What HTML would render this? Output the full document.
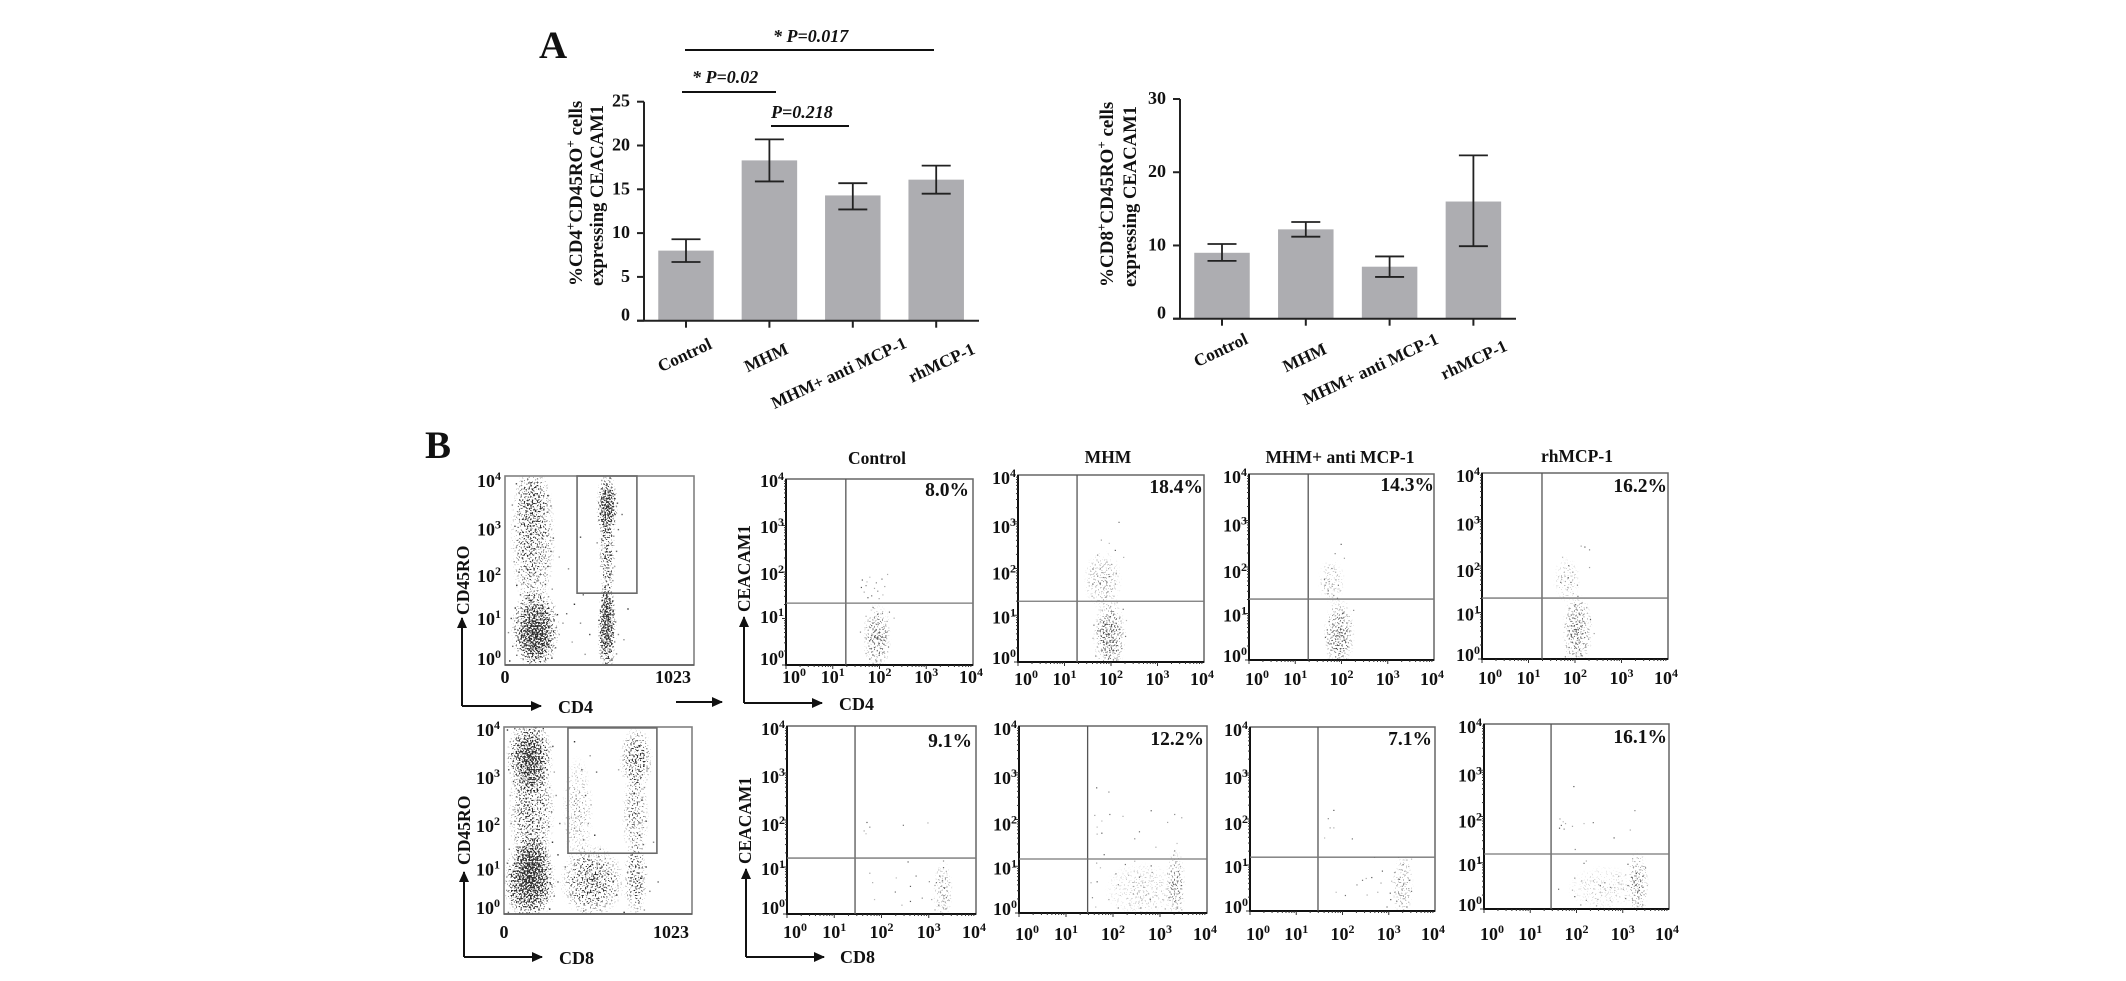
<!DOCTYPE html>
<html lang="en">
<head>
<meta charset="utf-8">
<title>CEACAM1 expression figure</title>
<style>
html,body{margin:0;padding:0;background:#fff;width:2126px;height:981px;overflow:hidden}
svg{display:block}
text{font-family:"Liberation Serif",serif;font-weight:bold;fill:#111}
.it{font-style:italic}
</style>
</head>
<body>
<svg id="figure" xmlns="http://www.w3.org/2000/svg" width="2126" height="981" viewBox="0 0 2126 981">
<defs>
<radialGradient id="soft"><stop offset="0" stop-color="#000" stop-opacity="1"/><stop offset=".55" stop-color="#000" stop-opacity=".62"/><stop offset="1" stop-color="#000" stop-opacity="0"/></radialGradient>
<marker id="ah" markerUnits="userSpaceOnUse" markerWidth="12" markerHeight="10" refX="10" refY="5" orient="auto"><path d="M0 0L11 5L0 10Z" fill="#111"/></marker>
<filter id="stipple" x="-5%" y="-5%" width="110%" height="110%" color-interpolation-filters="sRGB">
<feTurbulence type="fractalNoise" baseFrequency="0.62" numOctaves="1" seed="7" result="n"/>
<feColorMatrix in="n" type="matrix" values="0 0 0 0 0 0 0 0 0 0 0 0 0 0 0 3.4 0 0 0 -1.2" result="na"/>
<feComposite in="SourceAlpha" in2="na" operator="arithmetic" k1="0" k2="1" k3="1" k4="-1" result="d"/>
<feColorMatrix in="d" type="matrix" values="0 0 0 0 0.12 0 0 0 0 0.12 0 0 0 0 0.12 0 0 0 3.5 0"/>
</filter>
</defs>
<rect width="2126" height="981" fill="#fff"/>

<text x="539" y="58" font-size="39">A</text>
<text x="425" y="458" font-size="39">B</text>

<g>
<line x1="685" y1="50" x2="934" y2="50" stroke="#111" stroke-width="2"/>
<text class="it" x="773" y="42" font-size="18">* P=0.017</text>
<line x1="682" y1="92" x2="776" y2="92" stroke="#111" stroke-width="2"/>
<text class="it" x="692" y="83" font-size="18">* P=0.02</text>
<line x1="771" y1="126" x2="849" y2="126" stroke="#111" stroke-width="2"/>
<text class="it" x="771" y="118" font-size="18">P=0.218</text>
</g>

<g>
<text transform="translate(582,286) rotate(-90)" font-size="19">%CD4<tspan font-size="13" dy="-7">+</tspan><tspan dy="7">CD45RO</tspan><tspan font-size="13" dy="-7">+</tspan><tspan dy="7"> cells</tspan></text>
<text transform="translate(603,286) rotate(-90)" font-size="18.6">expressing CEACAM1</text>
</g>
<g>
<text transform="translate(1113,287) rotate(-90)" font-size="19">%CD8<tspan font-size="13" dy="-7">+</tspan><tspan dy="7">CD45RO</tspan><tspan font-size="13" dy="-7">+</tspan><tspan dy="7"> cells</tspan></text>
<text transform="translate(1136,287) rotate(-90)" font-size="18.6">expressing CEACAM1</text>
</g>
<g id="barCharts"></g>
<g id="flowPlots"></g>

<g stroke="#111" stroke-width="2" fill="none">
<path d="M462 706V618" marker-end="url(#ah)"/>
<path d="M462 706H541" marker-end="url(#ah)"/>
<path d="M676 702H722" marker-end="url(#ah)"/>
<path d="M744 703V617" marker-end="url(#ah)"/>
<path d="M744 703H822" marker-end="url(#ah)"/>
<path d="M464 957V872" marker-end="url(#ah)"/>
<path d="M464 957H542" marker-end="url(#ah)"/>
<path d="M746 957V869" marker-end="url(#ah)"/>
<path d="M746 957H824" marker-end="url(#ah)"/>
</g>
<g>
<text x="558" y="713" font-size="18">CD4</text>
<text x="839" y="710" font-size="18">CD4</text>
<text x="559" y="964" font-size="18">CD8</text>
<text x="840" y="963" font-size="18">CD8</text>
<text transform="translate(469,615) rotate(-90)" font-size="17.6">CD45RO</text>
<text transform="translate(470,865) rotate(-90)" font-size="17.6">CD45RO</text>
<text transform="translate(750,612) rotate(-90)" font-size="17.4">CEACAM1</text>
<text transform="translate(751,864) rotate(-90)" font-size="17.4">CEACAM1</text>
</g>
<g text-anchor="middle">
<text x="877" y="464" font-size="17.5">Control</text>
<text x="1108" y="463" font-size="17.5">MHM</text>
<text x="1340" y="463" font-size="17.5">MHM+ anti MCP-1</text>
<text x="1577" y="462" font-size="17.5">rhMCP-1</text>
</g>
</svg>

<script>
/* ---------- bar chart data ---------- */
const barCategories = ['Control', 'MHM', 'MHM+ anti MCP-1', 'rhMCP-1'];
const cd4Means = [8.0, 18.3, 14.3, 16.1];
const cd4Upper = [9.3, 20.7, 15.7, 17.7];
const cd4Lower = [6.7, 15.9, 12.7, 14.5];
const cd4Ticks = [0, 5, 10, 15, 20, 25];
const cd8Means = [9.0, 12.2, 7.1, 16.0];
const cd8Upper = [10.2, 13.2, 8.5, 22.3];
const cd8Lower = [7.9, 11.2, 5.7, 9.9];
const cd8Ticks = [0, 10, 20, 30];

/* ---------- flow cytometry data ---------- */
const decadeLabels = ['0', '1', '2', '3', '4'];
const gateXLabels = ['0', '1023'];
const gateCd4Density = [[165,.78,135,.85,.8],[165,.45,110,.55,.4],[150,2.7,125,1.6,.42],[150,3.5,105,.6,.24],[552,3.35,60,.72,.8],[552,2.3,46,1,.45],[552,.75,54,.95,.8],[552,1.3,42,.48,.4]];
const gateCd8Density = [[140,3.35,130,.85,.78],[150,2.2,130,1.3,.42],[140,.7,150,.88,.85],[150,1.2,110,.6,.42],[480,.7,180,.8,.45],[720,3.3,92,.72,.42],[715,2.1,76,1.05,.28],[715,.75,68,.85,.4],[400,2.2,88,1.2,.18]];
const gateCd4Box = [390, 714, 1.52, 4];
const gateCd8Box = [348, 832, 1.3, 3.98];
const gateCd4Points = [[22,.1],[60,.22],[95,.13],[130,.05],[178,.18],[210,.09],[250,.16],[38,.41],[72,.55],[110,.37],[146,.48],[188,.35],[225,.44],[270,.38],[15,.7],[48,.82],[88,.66],[125,.75],[168,.62],[202,.8],[242,.7],[290,.66],[30,1],[66,.93],[104,1.08],[140,.95],[180,1.1],[218,1],[262,.95],[310,.9],[52,1.22],[92,1.31],[128,1.18],[165,1.27],[204,1.24],[246,1.15],[280,1.08],[80,1.5],[120,1.45],[155,1.58],[190,1.42],[232,1.46],[60,1.7],[98,1.76],[138,1.68],[175,1.82],[215,1.72],[252,1.62],[72,1.98],[112,2.05],[150,1.93],[190,2.02],[228,2.1],[46,2.2],[90,2.28],[130,2.35],[170,2.22],[208,2.3],[245,2.42],[58,2.5],[102,2.58],[142,2.48],[182,2.62],[222,2.55],[258,2.7],[80,2.78],[122,2.72],[160,2.85],[198,2.78],[236,2.9],[50,2.95],[96,3.02],[134,2.96],[174,3.1],[212,3.05],[66,3.2],[110,3.28],[150,3.18],[188,3.32],[228,3.25],[36,3.4],[84,3.47],[128,3.42],[168,3.5],[205,3.44],[245,3.38],[72,3.66],[112,3.7],[152,3.62],[190,3.74],[228,3.6],[88,3.9],[125,3.86],[172,3.95],[58,3.85],[550,.05],[575,.12],[520,.2],[600,.25],[535,.35],[565,.42],[590,.5],[515,.58],[548,.63],[610,.66],[530,.78],[570,.85],[595,.92],[505,.96],[555,1.02],[585,1.1],[525,1.14],[560,1.24],[535,1.32],[580,1.37],[545,1.44],[570,1.55],[525,1.62],[555,1.72],[580,1.8],[540,1.88],[565,1.95],[530,2.05],[590,2.1],[550,2.2],[515,2.3],[572,2.34],[600,2.42],[538,2.5],[560,2.6],[520,2.68],[585,2.74],[548,2.82],[610,2.88],[530,2.94],[570,3.02],[505,3.08],[555,3.14],[592,3.2],[525,3.26],[575,3.32],[540,3.38],[605,3.44],[515,3.5],[560,3.56],[590,3.62],[530,3.7],[572,3.76],[548,3.84],[520,3.92],[565,3.97],[330,1.1],[405,.9],[360,.5],[455,.66],[430,.24],[372,1.3],[420,1.5],[340,2.05],[290,2.3],[405,2.72],[640,.55],[662,1.2],[630,3.2],[495,2.6]];
const gateCd8Points = [[15,3.95],[55,3.98],[105,3.97],[160,3.96],[210,3.98],[30,3.7],[75,3.78],[120,3.62],[170,3.82],[225,3.72],[262,3.6],[40,3.4],[88,3.5],[140,3.38],[190,3.55],[240,3.3],[22,3.1],[66,3.2],[112,3.05],[160,3.22],[205,3.12],[270,3.05],[48,2.85],[98,2.9],[150,2.78],[195,2.95],[245,2.72],[30,2.55],[78,2.62],[128,2.5],[178,2.68],[225,2.45],[280,2.55],[55,2.25],[105,2.32],[155,2.18],[205,2.38],[255,2.2],[35,1.95],[85,2.05],[135,1.92],[185,2.02],[240,1.88],[300,1.95],[60,1.65],[110,1.72],[160,1.6],[210,1.75],[260,1.55],[25,1.4],[75,1.42],[125,1.32],[175,1.48],[225,1.35],[290,1.28],[15,1.1],[55,1.18],[100,1.02],[150,1.12],[200,1.05],[250,.98],[330,1.02],[35,.8],[85,.88],[130,.72],[180,.84],[230,.78],[290,.7],[18,.5],[65,.58],[110,.44],[160,.54],[210,.48],[270,.4],[40,.22],[90,.28],[140,.15],[190,.25],[245,.12],[20,.05],[120,.04],[380,1.05],[430,1.2],[470,.95],[515,1.08],[560,.88],[395,.72],[445,.6],[490,.78],[535,.62],[590,.7],[360,.42],[410,.3],[460,.46],[505,.34],[555,.24],[610,.42],[430,.08],[520,.1],[400,2.1],[440,2.55],[455,1.95],[490,1.7],[430,1.6],[380,1.85],[470,2.35],[420,3.1],[465,3.4],[380,3.7],[500,3.05],[520,1.4],[700,3.7],[735,3.6],[680,3.45],[755,3.35],[710,3.25],[775,3.12],[690,3],[725,2.88],[760,2.72],[705,2.6],[745,2.45],[670,2.28],[720,2.15],[770,2],[695,1.88],[735,1.7],[755,1.5],[700,1.32],[730,1.12],[770,1.02],[690,.92],[745,.78],[715,.6],[790,.5],[680,.42],[730,.25],[760,.1],[650,.05],[835,.7],[810,1.55],[620,3.1]];
const controlCd4Points = [[1.62,1.84],[1.7,1.72],[1.66,1.58],[1.78,1.9],[1.82,1.5],[1.88,1.66],[1.74,1.46],[1.92,1.78],[1.98,1.44],[2.06,1.52],[2.04,1.86],[2.16,1.96],[1.6,1.68],[1.95,1.6],[2.1,1.7],[1.72,1.8],[1.85,1.25],[1.7,1.06],[1.95,1.1],[2.05,1.12],[2.15,.95],[1.9,.96],[2.2,1.15],[2.3,1.02],[1.82,.86],[1.96,.88],[2.08,.84],[1.75,.76],[1.88,.74],[2,.78],[2.12,.72],[1.58,.72],[1.84,.66],[1.94,.68],[2.05,.62],[1.68,.6],[1.8,.56],[1.92,.58],[2.02,.54],[2.14,.58],[1.88,.48],[1.97,.5],[2.08,.46],[1.76,.42],[1.9,.4],[2,.38],[2.18,.4],[1.84,.3],[1.94,.32],[2.06,.28],[1.7,.26],[1.88,.2],[1.98,.22],[2.1,.18],[1.78,.14],[1.92,.1],[2.02,.12],[1.86,.04],[2,.03],[1.95,.92],[1.9,.64],[1.98,.44],[1.96,.7]];
const mhmCd4Points = [[1.6,2.0],[1.7,2.3],[1.78,2.62],[1.95,2.55],[2.16,3.0],[2.26,2.25],[2.08,2.4],[1.9,2.15],[2,2.1],[1.52,1.64],[1.6,1.68],[1.66,1.62],[1.75,1.7],[1.84,1.6],[1.92,1.52],[2.02,1.58],[1.7,1.85],[1.82,1.92],[1.96,1.84],[2.1,1.9],[1.58,1.42],[1.72,1.45],[1.88,1.4],[2.05,1.42],[1.9,1.72],[2.08,1.68],[1.98,1.2],[2.12,1.28],[2.25,1.14],[1.8,1.12],[1.9,1.02],[2.05,1.04],[2.18,.96],[2.32,.9],[1.62,.8],[1.76,.88],[1.86,.82],[1.95,.9],[2.08,.84],[2.2,.76],[1.7,.68],[1.82,.66],[1.9,.7],[1.98,.74],[2.06,.66],[2.14,.62],[2.3,.56],[1.6,.52],[1.78,.56],[1.86,.5],[1.94,.58],[2.02,.48],[2.12,.46],[1.72,.4],[1.84,.38],[1.92,.42],[2,.36],[2.1,.34],[2.22,.3],[1.78,.26],[1.88,.22],[1.96,.26],[2.06,.2],[2.16,.18],[1.66,.14],[1.86,.1],[1.95,.12],[2.04,.06],[2.12,.1],[1.98,.72],[1.94,.6],[1.9,.46]];
const antiCd4Points = [[1.98,2.5],[1.85,2.3],[2.05,2.2],[1.7,2.0],[1.78,1.98],[1.86,1.9],[1.62,1.75],[1.72,1.7],[1.64,1.62],[1.78,1.6],[1.92,1.62],[1.96,1.5],[1.7,1.5],[1.82,1.4],[1.7,1.44],[1.62,1.62],[1.9,1.34],[1.95,1.1],[2.02,1.02],[2.25,1.08],[2.1,.98],[1.85,.96],[1.98,.92],[2.15,.86],[1.72,.84],[1.82,.78],[1.92,.8],[2,.74],[2.1,.72],[2.2,.8],[1.68,.66],[1.8,.62],[1.9,.66],[1.97,.6],[2.06,.58],[2.16,.62],[1.64,.5],[1.78,.5],[1.88,.54],[1.96,.46],[2.06,.44],[2.2,.42],[1.7,.38],[1.82,.36],[1.92,.4],[2,.34],[2.12,.3],[1.78,.22],[1.88,.26],[1.96,.2],[2.06,.16],[1.74,.1],[1.86,.08],[1.95,.06],[2.02,.1],[1.94,.52],[1.92,.62]];
const rhCd4Points = [[2.2,2.42],[2.3,2.36],[2.12,2.44],[1.72,2.2],[1.85,2.02],[1.76,1.88],[1.84,1.76],[1.94,1.88],[2.3,1.98],[1.7,1.72],[1.68,1.66],[1.78,1.68],[1.9,1.66],[2.04,1.6],[1.82,1.5],[1.95,1.42],[2.05,1.36],[1.86,1.1],[2,1.18],[2.14,1.22],[2.24,1.12],[1.94,1],[2.08,.98],[2.18,.92],[2.32,.86],[1.88,.86],[2,.88],[2.1,.84],[2.2,.78],[1.78,.76],[1.92,.72],[2.04,.76],[2.14,.7],[2.26,.66],[1.84,.62],[1.96,.6],[2.06,.64],[2.16,.56],[2.4,.56],[1.82,.5],[1.94,.48],[2.04,.52],[2.12,.46],[2.28,.44],[1.9,.38],[2,.36],[2.1,.38],[2.22,.32],[1.86,.26],[1.98,.24],[2.08,.2],[2.2,.26],[1.94,.12],[2.02,.14],[2.14,.08],[1.78,.06],[2.02,.58],[2.06,.42]];
const rhCd8Points = [[1.93,2.66],[3.25,2.14],[1.63,1.96],[1.7,1.9],[1.66,1.82],[1.75,1.86],[1.62,1.76],[1.72,1.74],[1.9,1.8],[2.15,1.86],[2.35,1.88],[3.15,1.72],[2.8,1.55],[1.96,1.3],[3.2,1.1],[3.3,1.12],[2.15,1],[2.2,1.05],[3.1,.98],[3.22,.92],[3.3,.98],[3.4,.94],[3.48,.9],[3.2,.82],[3.28,.78],[3.36,.86],[2.9,.72],[3.05,.75],[3.18,.7],[3.3,.66],[3.42,.72],[1.95,.68],[2.1,.62],[2.35,.62],[2.6,.58],[2.9,.58],[3.1,.52],[3.28,.54],[3.4,.5],[3.52,.52],[1.6,.44],[1.9,.42],[2.5,.52],[2.72,.48],[3,.44],[3.2,.36],[3.32,.4],[3.45,.32],[1.95,.28],[2.2,.2],[2.45,.22],[2.72,.2],[3.05,.24],[3.2,.2],[3.32,.14],[2.08,.1],[2.42,.08],[3.3,.06],[3.42,.1]];
const controlCd8Points = [[1.68,1.96],[1.74,1.86],[1.62,1.78],[1.66,1.72],[2.45,1.9],[2.97,1.95],[2.55,1.12],[3.3,1.14],[1.74,.88],[2.3,.78],[2.72,.82],[1.8,.68],[2.6,.6],[3.0,.7],[3.12,.62],[1.84,.32],[2.28,.48],[2.42,.2],[2.6,.28],[2.85,.35],[3.05,.32],[3.2,.95],[3.3,1],[3.36,.92],[3.22,.82],[3.28,.72],[3.34,.78],[3.42,.68],[3.15,.68],[3.26,.6],[3.32,.56],[3.38,.5],[3.2,.48],[3.28,.42],[3.36,.36],[3.3,.28],[3.2,.2],[3.3,.14],[3.12,.1],[3.24,.06],[3.35,.12],[3.42,.3]];
const mhmCd8Points = [[1.64,2.69],[1.9,2.6],[1.6,2.1],[1.75,1.98],[1.92,2.12],[2.2,2.08],[2.8,2.2],[3.3,2.12],[3.45,2.05],[1.65,1.85],[2.55,1.75],[1.65,1.7],[1.75,1.72],[2.45,1.6],[3.15,1.95],[3.35,1.5],[3.3,1.34],[2.9,1.42],[1.8,1.26],[3.28,1.25],[1.64,1.08],[1.72,.98],[2.25,1.05],[2.45,1.12],[2.8,1.02],[3.22,1.02],[3.32,1.08],[3.42,1],[2.05,.85],[2.32,.82],[2.55,.78],[2.82,.88],[3.15,.85],[3.3,.82],[3.38,.9],[1.52,.66],[1.65,.68],[2.1,.62],[2.42,.58],[2.62,.66],[3.28,.62],[3.36,.68],[3.44,.6],[2.42,.42],[2.7,.4],[2.92,.38],[3.2,.46],[3.3,.44],[3.38,.48],[1.55,.34],[1.9,.3],[2.6,.28],[2.78,.3],[3.05,.3],[3.18,.34],[3.32,.28],[3.42,.32],[1.62,.14],[2.1,.12],[2.35,.18],[2.58,.12],[2.9,.14],[3.1,.1],[3.25,.16],[3.36,.12],[3.45,.08]];
const antiCd8Points = [[1.8,2.2],[1.68,2.02],[1.72,1.82],[1.6,1.6],[2.2,1.58],[1.8,1.82],[2.68,1.18],[3.2,1.18],[3.38,1.12],[3.48,1.14],[3.3,1.02],[3.42,.98],[2.85,.88],[3.12,.85],[3.28,.9],[3.4,.85],[2.42,.68],[2.5,.72],[2.62,.74],[2.3,.58],[2.82,.62],[3.05,.66],[3.22,.7],[3.32,.62],[3.44,.68],[3.28,.55],[3.42,.5],[1.85,.42],[2.05,.35],[2.75,.42],[3.02,.4],[3.12,.42],[3.22,.38],[3.36,.4],[3.48,.44],[2.52,.36],[3.03,.26],[3.16,.22],[3.3,.28],[3.42,.2],[2.95,.1],[3.22,.12],[3.38,.1]];
const controlCd4Density = [[1.95,.6,.32,.75,.36]];
const mhmCd4Density = [[1.97,.55,.36,.82,.46],[1.82,1.75,.42,.65,.22]];
const antiCd4Density = [[1.95,.55,.34,.8,.4],[1.78,1.7,.3,.5,.16]];
const rhCd4Density = [[2.05,.6,.34,.82,.38],[1.82,1.7,.3,.5,.16]];
const controlCd8Density = [[3.3,.5,.22,.65,.2]];
const mhmCd8Density = [[3.33,.6,.22,.8,.3],[2.6,.5,.8,.6,.14]];
const antiCd8Density = [[3.3,.55,.24,.7,.24]];
const rhCd8Density = [[3.33,.55,.24,.75,.3],[2.6,.45,.8,.5,.12]];
const controlCd4Gate = [1.28, 1.33];
const mhmCd4Gate = [1.27, 1.30];
const antiCd4Gate = [1.28, 1.31];
const rhCd4Gate = [1.29, 1.31];
const controlCd8Gate = [1.44, 1.19];
const mhmCd8Gate = [1.46, 1.155];
const antiCd8Gate = [1.47, 1.17];
const rhCd8Gate = [1.45, 1.19];
const percentLabels = ['8.0%', '18.4%', '14.3%', '16.2%', '9.1%', '12.2%', '7.1%', '16.1%'];

/* ---------- helpers ---------- */
const SVGNS = 'http://www.w3.org/2000/svg';
function node(tag, parent, attrs, text) {
  const el = document.createElementNS(SVGNS, tag);
  for (const k in attrs) el.setAttribute(k, attrs[k]);
  if (text !== undefined) el.textContent = text;
  parent.appendChild(el);
  return el;
}

/* ---------- bar charts ---------- */
function drawBarChart(parent, means, upper, lower, ticks, g) {
  const yScale = v => g.y0 + (g.yTop - g.y0) * v / ticks[ticks.length - 1];
  const xScale = i => g.x0 + g.step * i;
  const axisY = node('line', parent, {x1: g.axisX, x2: g.axisX, y1: g.yTop, y2: g.y0, stroke: '#222', 'stroke-width': 2});
  
  
  ticks.forEach(t => {
    const tick = node('line', parent, {x1: g.axisX - 7, x2: g.axisX, y1: yScale(t), y2: yScale(t), stroke: '#222', 'stroke-width': 2});
    
    
    const lab = node('text', parent, {x: g.axisX - 14, y: yScale(t) + (t === 0 ? 0 : 5), 'text-anchor': 'end', 'font-size': 18}, String(t));
    
    
  });
  means.forEach((m, i) => {
    const cx = xScale(i);
    const bar = node('rect', parent, {x: cx - g.barW / 2, y: yScale(m), width: g.barW, height: g.y0 - yScale(m), fill: '#adadb1'});
    
    
    const stem = node('line', parent, {x1: cx, x2: cx, y1: yScale(upper[i]), y2: yScale(lower[i]), stroke: '#222', 'stroke-width': 1.8});
    
    
    const capTop = node('line', parent, {x1: cx - 14.5, x2: cx + 14.5, y1: yScale(upper[i]), y2: yScale(upper[i]), stroke: '#222', 'stroke-width': 1.8});
    
    
    const capBot = node('line', parent, {x1: cx - 14.5, x2: cx + 14.5, y1: yScale(lower[i]), y2: yScale(lower[i]), stroke: '#222', 'stroke-width': 1.8});
    
    
    const tick = node('line', parent, {x1: cx, x2: cx, y1: g.y0, y2: g.y0 + 7, stroke: '#222', 'stroke-width': 2});
    
    
    const ex = cx + g.labelDx[i], ey = g.labelY[i];
    const lab = node('text', parent, {transform: 'translate(' + ex + ',' + ey + ') rotate(-25)', 'text-anchor': 'end', 'font-size': 17.3}, barCategories[i]);
    
    
  });
  const axisX = node('line', parent, {x1: g.axisX - 7, x2: g.axisEnd, y1: g.y0, y2: g.y0, stroke: '#222', 'stroke-width': 2});
  
  
}
const barRoot = document.getElementById('barCharts');
const cd4Chart = node('g', barRoot, {});


drawBarChart(cd4Chart, cd4Means, cd4Upper, cd4Lower, cd4Ticks, {axisX: 644, axisEnd: 979, y0: 320.7, yTop: 101.7, x0: 686, step: 83.4, barW: 55.5, labelDx: [27, 20, 55, 40], labelY: [348, 353, 347, 353]});
const cd8Chart = node('g', barRoot, {});


drawBarChart(cd8Chart, cd8Means, cd8Upper, cd8Lower, cd8Ticks, {axisX: 1180, axisEnd: 1516, y0: 318.7, yTop: 99, x0: 1222, step: 83.8, barW: 55.5, labelDx: [27, 22, 50, 35], labelY: [343, 353, 343, 350]});

/* ---------- flow plots ---------- */
const shades = ['#1c1c1c', '#5a5a5a', '#7d7d7d', '#a0a0a0', '#3c3c3c', '#8c8c8c'];
let clipCount = 0;
function powerLabel(parent, exp, x, y, anchor) {
  const t = node('text', parent, {x: x, y: y, 'text-anchor': anchor, 'font-size': 18});
  
  
  node('tspan', t, {}, '10');
  node('tspan', t, {'font-size': 12, dy: -7}, exp);
  return t;
}
function drawDots(parent, points, density, sx, sy, dx, dy, size, b, cloudOpacity) {
  clipCount += 1;
  const clipId = 'plotClip' + clipCount;
  const cp = node('clipPath', parent, {id: clipId});
  node('rect', cp, {x: b.l, y: b.t, width: b.r - b.l, height: b.b - b.t});
  const outer = node('g', parent, {'clip-path': 'url(#' + clipId + ')'});
  
  
  const cloud = node('g', outer, {filter: 'url(#stipple)', opacity: cloudOpacity});
  
  
  density.forEach(d => {
    const blob = node('ellipse', cloud, {cx: sx(d[0]), cy: sy(d[1]), rx: d[2] * dx, ry: d[3] * dy, fill: 'url(#soft)', opacity: d[4]});
    
    
  });
  points.forEach((p, i) => {
    const dot = node('rect', outer, {x: sx(p[0]), y: sy(p[1]), width: size, height: size, fill: shades[i % shades.length], opacity: cloudOpacity});
    
    
  });
}
function drawGatePlot(parent, points, density, gate, b) {
  const w = b.r - b.l, h = b.b - b.t;
  const sx = v => b.l + v / 1023 * w;
  const sy = v => b.b - v / 4 * h;
  const events = node('g', parent, {});
  
  
  drawDots(events, points, density, sx, sy, w / 1023, h / 4, 1.4, b, 0.92);
  const frame = node('rect', parent, {x: b.l, y: b.t, width: w, height: h, fill: 'none', stroke: '#808080', 'stroke-width': 1.6});
  
  
  const base = node('line', parent, {x1: b.l, x2: b.r, y1: b.b, y2: b.b, stroke: '#555', 'stroke-width': 1.6});
  
  
  const gr = node('rect', parent, {x: sx(gate[0]), y: sy(gate[3]), width: sx(gate[1]) - sx(gate[0]), height: sy(gate[2]) - sy(gate[3]), fill: 'none', stroke: '#6a6a6a', 'stroke-width': 1.6});
  
  
  decadeLabels.forEach((lab, i) => {
    powerLabel(parent, lab, b.l - 4, b.b - i * h / 4 + b.yOff[i], 'end');
  });
  const x0 = node('text', parent, {x: sx(0), y: b.labelY, 'text-anchor': 'middle', 'font-size': 18}, gateXLabels[0]);
  
  
  const x1 = node('text', parent, {x: sx(1023) - 3, y: b.labelY, 'text-anchor': 'end', 'font-size': 18}, gateXLabels[1]);
  
  
}
function drawQuadPlot(parent, points, density, gate, pct, b) {
  const w = b.r - b.l, h = b.b - b.t;
  const sx = v => b.l + v / 4 * w;
  const sy = v => b.b - v / 4 * h;
  drawDots(parent, points, density, sx, sy, w / 4, h / 4, 1.2, b, 0.72);
  const frame = node('rect', parent, {x: b.l, y: b.t, width: w, height: h, fill: 'none', stroke: '#666', 'stroke-width': 1.5});
  
  
  const ax = node('path', parent, {d: 'M' + b.l + ' ' + b.t + 'V' + b.b + 'H' + b.r, fill: 'none', stroke: '#111', 'stroke-width': 2});
  
  
  const vg = node('line', parent, {x1: sx(gate[0]), x2: sx(gate[0]), y1: b.t, y2: b.b, stroke: '#555', 'stroke-width': 1.3});
  
  
  const hg = node('line', parent, {x1: b.l, x2: b.r, y1: sy(gate[1]), y2: sy(gate[1]), stroke: '#777', 'stroke-width': 1.3});
  
  
  for (let d = 0; d < 4; d++) {
    [1, 2, 3, 4, 5, 6, 7, 8, 9].forEach(m => {
      const v = d + Math.log10(m);
      const len = m === 1 ? 4 : 2;
      const tx = node('line', parent, {x1: sx(v), x2: sx(v), y1: b.b, y2: b.b + len, stroke: '#333', 'stroke-width': 1});
      
      
      const ty = node('line', parent, {x1: b.l - len, x2: b.l, y1: sy(v), y2: sy(v), stroke: '#333', 'stroke-width': 1});
      
      
    });
  }
  decadeLabels.forEach((lab, i) => {
    powerLabel(parent, lab, b.l - 2, sy(i) + b.yOff[i], 'end');
    powerLabel(parent, lab, sx(i) + [8, 0, 0, 0, -2][i], b.labelY, 'middle');
  });
  const p = node('text', parent, {x: b.pctX, y: b.pctY, 'text-anchor': 'end', 'font-size': 19.5}, pct);
  
  
}
const flowRoot = document.getElementById('flowPlots');
const stdOff = [2, 8, 11, 11, 9];
const gateTop = node('g', flowRoot, {});


drawGatePlot(gateTop, gateCd4Points, gateCd4Density, gateCd4Box, {l: 505, r: 694, t: 476, b: 665, labelY: 683, yOff: [0, 7, 11.5, 12, 11]});
const gateBottom = node('g', flowRoot, {});


drawGatePlot(gateBottom, gateCd8Points, gateCd8Density, gateCd8Box, {l: 504, r: 692, t: 727, b: 914, labelY: 938, yOff: [0, 8, 11.5, 10, 9]});

const q1 = node('g', flowRoot, {});


drawQuadPlot(q1, controlCd4Points, controlCd4Density, controlCd4Gate, percentLabels[0], {l: 786, r: 973, t: 479, b: 665, labelY: 683, pctX: 969, pctY: 496, yOff: [0, 4.5, 8, 7.5, 8]});
const q2 = node('g', flowRoot, {});


drawQuadPlot(q2, mhmCd4Points, mhmCd4Density, mhmCd4Gate, percentLabels[1], {l: 1018, r: 1204, t: 475, b: 662, labelY: 685, pctX: 1203, pctY: 493, yOff: stdOff});
const q3 = node('g', flowRoot, {});


drawQuadPlot(q3, antiCd4Points, antiCd4Density, antiCd4Gate, percentLabels[2], {l: 1249, r: 1434, t: 474, b: 660, labelY: 685, pctX: 1434, pctY: 491, yOff: stdOff});
const q4 = node('g', flowRoot, {});


drawQuadPlot(q4, rhCd4Points, rhCd4Density, rhCd4Gate, percentLabels[3], {l: 1482, r: 1668, t: 473, b: 659, labelY: 684, pctX: 1667, pctY: 492, yOff: stdOff});
const q5 = node('g', flowRoot, {});


drawQuadPlot(q5, controlCd8Points, controlCd8Density, controlCd8Gate, percentLabels[4], {l: 787, r: 976, t: 726, b: 914, labelY: 938, pctX: 972, pctY: 747, yOff: [0, 8, 11, 10, 9]});
const q6 = node('g', flowRoot, {});


drawQuadPlot(q6, mhmCd8Points, mhmCd8Density, mhmCd8Gate, percentLabels[5], {l: 1019, r: 1207, t: 726, b: 913, labelY: 940, pctX: 1204, pctY: 745, yOff: stdOff});
const q7 = node('g', flowRoot, {});


drawQuadPlot(q7, antiCd8Points, antiCd8Density, antiCd8Gate, percentLabels[6], {l: 1250, r: 1435, t: 727, b: 911, labelY: 940, pctX: 1432, pctY: 745, yOff: stdOff});
const q8 = node('g', flowRoot, {});


drawQuadPlot(q8, rhCd8Points, rhCd8Density, rhCd8Gate, percentLabels[7], {l: 1484, r: 1669, t: 724, b: 909, labelY: 940, pctX: 1667, pctY: 743, yOff: stdOff});
</script>
</body>
</html>
